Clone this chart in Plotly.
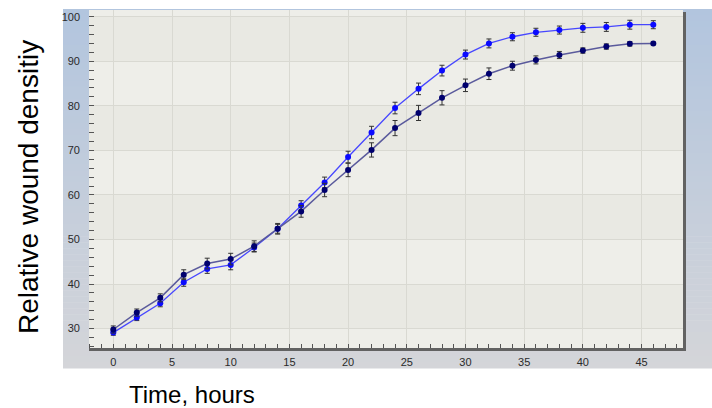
import plotly.graph_objects as go

# Time points (hours)
hours = [0, 2, 4, 6, 8, 10, 12, 14, 16, 18, 20, 22,
         24, 26, 28, 30, 32, 34, 36, 38, 40, 42, 44, 46]

# Dark navy series: mean relative wound density and error
density_dark = [29.8, 33.6, 36.9, 42.1, 44.6, 45.6, 48.5, 52.4, 56.3, 61.1, 65.6, 70.1,
                75.0, 78.4, 81.8, 84.6, 87.2, 89.0, 90.3, 91.4, 92.4, 93.3, 93.9, 94.0]
error_dark = [0.8, 0.8, 0.9, 1.1, 1.2, 1.3, 1.2, 1.2, 1.3, 1.5, 1.5, 1.6,
              1.7, 1.7, 1.6, 1.4, 1.3, 1.0, 0.9, 0.8, 0.6, 0.6, 0.5, 0.3]

# Bright blue series: mean relative wound density and error
density_blue = [29.1, 32.5, 35.7, 40.4, 43.4, 44.3, 48.2, 52.4, 57.6, 62.8, 68.5, 74.0,
                79.5, 83.8, 87.9, 91.5, 94.0, 95.5, 96.5, 97.0, 97.5, 97.7, 98.2, 98.2]
error_blue = [0.6, 0.7, 0.8, 0.9, 1.0, 1.1, 1.0, 1.0, 1.1, 1.2, 1.3, 1.4,
              1.3, 1.3, 1.2, 1.0, 1.0, 0.9, 0.9, 0.9, 1.0, 1.0, 1.0, 0.9]

x_ticks = [0, 5, 10, 15, 20, 25, 30, 35, 40, 45]
y_ticks = [30, 40, 50, 60, 70, 80, 90, 100]

X_RANGE = [-2.07, 48.53]
Y_RANGE = [25.2, 101.5]

# Figure geometry in pixels
W, H = 712, 408
PL, PR, PT, PB = 89, 683, 10, 350


def px_x(px):
    return (px - PL) / (PR - PL)


def px_y(py):
    return (PB - py) / (PB - PT)


def mix(c0, c1, t):
    return "rgb(%d,%d,%d)" % tuple(round(a + (b - a) * t) for a, b in zip(c0, c1))


shapes = []

# Blue-to-grey gradient panel behind the plot
panel_top, panel_bot, panel_left = 9, 368, 63
top_col, bot_col = (178, 197, 222), (212, 213, 217)
n_strips = 60
step = (panel_bot - panel_top) / n_strips
for i in range(n_strips):
    y0 = panel_top + i * step
    shapes.append(dict(type="rect", xref="paper", yref="paper", layer="below",
                       x0=px_x(panel_left), x1=px_x(W + 2),
                       y0=px_y(y0 + step + 0.5), y1=px_y(y0),
                       fillcolor=mix(top_col, bot_col, (i + 0.5) / n_strips),
                       line=dict(width=0)))

# Plot area background
shapes.append(dict(type="rect", xref="paper", yref="paper", layer="below",
                   x0=0, x1=1, y0=0, y1=1, fillcolor="#eeeee9", line=dict(width=0)))

# Alternating horizontal bands between gridlines
for lo, hi in zip(y_ticks[:-1], y_ticks[1:]):
    if lo % 20 == 10:
        shapes.append(dict(type="rect", xref="paper", yref="y", layer="below",
                           x0=0, x1=1, y0=lo, y1=hi, fillcolor="#e9e9e3",
                           line=dict(width=0)))
shapes.append(dict(type="rect", xref="paper", yref="y", layer="below",
                   x0=0, x1=1, y0=90, y1=100, fillcolor="#e9e9e3", line=dict(width=0)))

# Shadow frame on the right and bottom of the plot area
shapes.append(dict(type="line", xref="paper", yref="paper", layer="above",
                   x0=px_x(PL), x1=px_x(PR + 3), y0=px_y(PB - 0.5), y1=px_y(PB - 0.5),
                   line=dict(color="#626262", width=3)))
shapes.append(dict(type="line", xref="paper", yref="paper", layer="above",
                   x0=px_x(PR + 1.5), x1=px_x(PR + 1.5), y0=px_y(PB + 1), y1=px_y(PT + 2),
                   line=dict(color="#626262", width=3)))

fig = go.Figure()

fig.add_trace(go.Scatter(
    x=hours, y=density_blue, mode="lines+markers",
    line=dict(color="#4747ff", width=1.3),
    marker=dict(color="#0a0aff", size=6),
    error_y=dict(type="data", array=error_blue, color="#333333", thickness=1, width=2.5),
))
fig.add_trace(go.Scatter(
    x=hours, y=density_dark, mode="lines+markers",
    line=dict(color="#5a5a9c", width=1.5),
    marker=dict(color="#00006e", size=6),
    error_y=dict(type="data", array=error_dark, color="#333333", thickness=1, width=2.5),
))

tick_font = dict(family="Liberation Sans, Arial, sans-serif", size=11, color="#2a2a2a")

fig.update_layout(
    width=W, height=H,
    margin=dict(l=PL, r=W - PR, t=PT, b=H - PB, pad=0),
    paper_bgcolor="white",
    plot_bgcolor="rgba(0,0,0,0)",
    showlegend=False,
    shapes=shapes,
    xaxis=dict(
        range=X_RANGE, tickvals=x_ticks, ticks="", showline=False, zeroline=False,
        showgrid=True, gridcolor="#d9d9d2", gridwidth=1,
        tickfont=tick_font, ticklabelstandoff=4,
        minor=dict(dtick=1, tick0=0, ticks="inside", ticklen=6, tickwidth=1,
                   tickcolor="#555555", showgrid=False),
    ),
    yaxis=dict(
        range=Y_RANGE, tickvals=y_ticks, ticks="", showline=False, zeroline=False,
        showgrid=True, gridcolor="#d9d9d2", gridwidth=1,
        tickfont=tick_font, ticklabelstandoff=8,
        minor=dict(dtick=2, tick0=0, ticks="inside", ticklen=5, tickwidth=1.2,
                   tickcolor="#555555", showgrid=False),
    ),
    annotations=[
        dict(text="Time, hours", xref="paper", yref="paper",
             x=px_x(191.5), y=px_y(394), xanchor="center", yanchor="middle",
             showarrow=False,
             font=dict(family="Liberation Sans, Arial, sans-serif", size=24, color="black")),
        dict(text="Relative wound densitiy", xref="paper", yref="paper",
             x=px_x(29), y=px_y(187), xanchor="center", yanchor="middle",
             textangle=-90, showarrow=False,
             font=dict(family="Liberation Sans, Arial, sans-serif", size=28, color="black")),
    ],
)

fig.write_html("out.html")
